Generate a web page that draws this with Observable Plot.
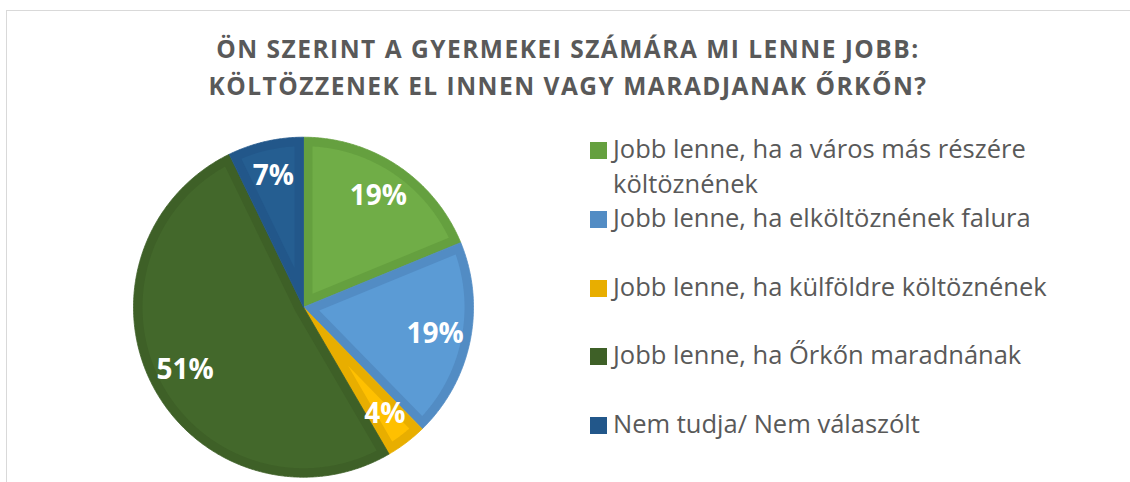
<!DOCTYPE html>
<html><head><meta charset="utf-8">
<script src="https://cdn.jsdelivr.net/npm/d3@7"></script>
<script src="https://cdn.jsdelivr.net/npm/@observablehq/plot@0.6"></script>
<style>
body{margin:0;background:#fff;}
#chart{position:relative;width:1130px;height:482px;overflow:hidden;font-family:"Open Sans",sans-serif;background:#fff;}
#frame{position:absolute;left:6px;top:10px;width:1130px;height:480px;border-left:1.5px solid #d9d9d9;border-top:1.5px solid #d9d9d9;}
#title{position:absolute;left:6px;width:1124px;top:30px;text-align:center;font-weight:700;font-size:24.5px;line-height:37px;color:#595959;letter-spacing:1.5px;}
#pie{position:absolute;left:123px;top:126px;}
.item{position:absolute;left:590px;font-size:25.5px;line-height:35px;color:#595959;white-space:nowrap;}
.sw{position:absolute;left:0;width:17px;height:17px;}
.txt{position:absolute;left:23px;}
</style></head>
<body>
<div id="chart">
  <div id="frame"></div>
  <div id="title"></div>
  <div id="pie"></div>
  <div id="legend"></div>
</div>
<script>
const titleLines = ["ÖN SZERINT A GYERMEKEI SZÁMÁRA MI LENNE JOBB:", "KÖLTÖZZENEK EL INNEN VAGY MARADJANAK ŐRKŐN?"];
const categories = [
  "Jobb lenne, ha a város más részére költöznének",
  "Jobb lenne, ha elköltöznének falura",
  "Jobb lenne, ha külföldre költöznének",
  "Jobb lenne, ha Őrkőn maradnának",
  "Nem tudja/ Nem válaszólt"
];
const values = [18.8, 18.9, 3.9, 51.2, 7.2];
const valueLabels = ["19%", "19%", "4%", "51%", "7%"];
const innerColors = ["#70AD47", "#5B9BD5", "#FFC000", "#43682B", "#255E91"];
const bandColors = ["#65A03F", "#528CC4", "#E8AE00", "#3E6027", "#22578A"];

// title
document.getElementById("title").innerHTML = titleLines.join("<br>");

// geometry (unit circle), band width relative to radius
const R = 1, band = 9 / 170, labelR = 0.79;
const total = d3.sum(values);
const pt = (a, r) => ({x: r * Math.sin(a), y: r * Math.cos(a)});
const outer = [], inner = [], labels = [];
let acc = 0;
values.forEach((v, i) => {
  const a0 = acc / total * 2 * Math.PI;
  acc += v;
  const a1 = acc / total * 2 * Math.PI;
  const th = a1 - a0;
  const key = categories[i];
  // outer wedge
  const op = [pt(0, 0)];
  const n = Math.max(4, Math.ceil(th / (Math.PI / 360)));
  for (let k = 0; k <= n; k++) op.push(pt(a0 + th * k / n, R));
  op.push(pt(0, 0));
  op.forEach(p => outer.push({...p, key, color: bandColors[i]}));
  // inner (inset) wedge
  const ri = R - band;
  const da = Math.asin(band / ri);
  const ip = [];
  if (th < Math.PI) {
    ip.push(pt((a0 + a1) / 2, band / Math.sin(th / 2)));
  } else {
    const s0 = a1 - Math.PI / 2, s1 = a0 + Math.PI / 2;
    for (let k = 0; k <= 8; k++) ip.push(pt(s0 + (s1 - s0) * k / 8, band));
  }
  const b0 = a0 + da, b1 = a1 - da;
  const m = Math.max(4, Math.ceil((b1 - b0) / (Math.PI / 360)));
  for (let k = 0; k <= m; k++) ip.push(pt(b0 + (b1 - b0) * k / m, ri));
  ip.push(ip[0]);
  ip.forEach(p => inner.push({...p, key, color: innerColors[i]}));
  const mid = (a0 + a1) / 2;
  labels.push({...pt(mid, labelR), text: valueLabels[i]});
});

const W = 360, H = 356, cx = 180, cy = 180.7, scale = 170;
const plot = Plot.plot({
  width: W, height: H,
  margin: 0,
  x: {domain: [-cx / scale, (W - cx) / scale], axis: null},
  y: {domain: [-(H - cy) / scale, cy / scale], axis: null},
  color: {type: "identity"},
  marks: [
    Plot.line(outer, {x: "x", y: "y", z: "key", fill: "color", stroke: "color", strokeWidth: 0.8, curve: "linear"}),
    Plot.line(inner, {x: "x", y: "y", z: "key", fill: "color", stroke: "none", curve: "linear"}),
    Plot.text(labels, {x: "x", y: "y", text: "text", fill: "white", fontSize: 28, fontWeight: 700, fontFamily: "Open Sans"})
  ]
});
plot.style.fontFamily = "Open Sans";
document.getElementById("pie").appendChild(plot);

// legend
const legendTops = [130.5, 199.5, 268.5, 336.5, 405.5];
const leg = document.getElementById("legend");
categories.forEach((c, i) => {
  const it = document.createElement("div");
  it.className = "item";
  it.style.top = legendTops[i] + "px";
  const sw = document.createElement("div");
  sw.className = "sw";
  sw.style.top = "11px";
  sw.style.background = bandColors[i];
  const tx = document.createElement("div");
  tx.className = "txt";
  if (i === 0) { tx.style.whiteSpace = "normal"; tx.style.width = "430px"; }
  tx.textContent = c;
  it.appendChild(sw); it.appendChild(tx);
  leg.appendChild(it);
});
</script>
</body></html>
